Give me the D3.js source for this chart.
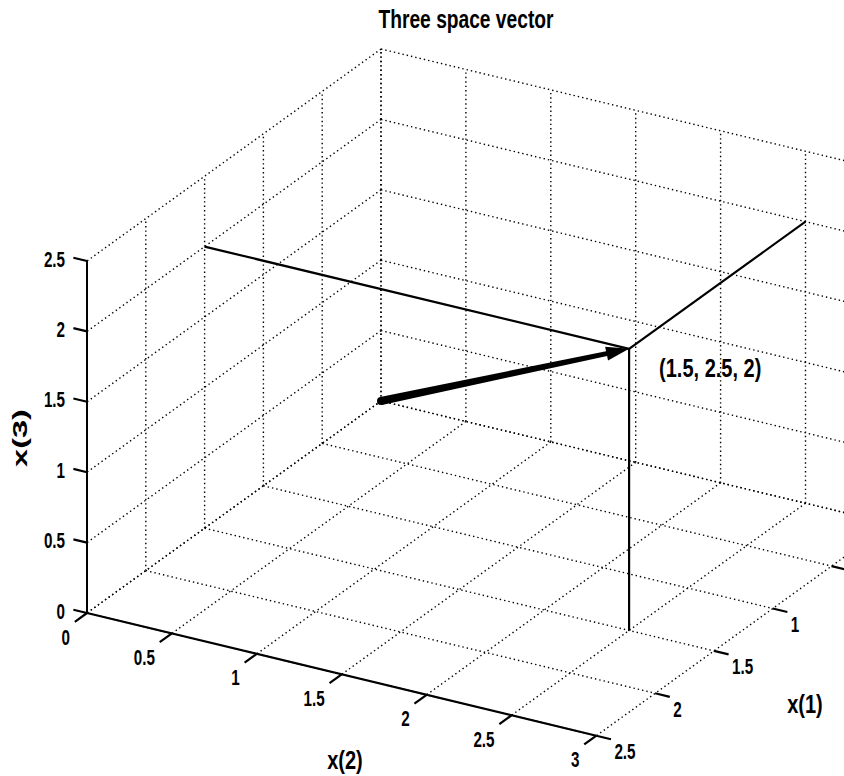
<!DOCTYPE html>
<html>
<head>
<meta charset="utf-8">
<script src="https://cdn.jsdelivr.net/npm/d3@7"></script>
<style>
  html, body { margin: 0; padding: 0; background: #fff; }
  svg text { font-family: "Liberation Sans", Arial, Helvetica, sans-serif; font-weight: bold; fill: #000; }
</style>
</head>
<body>
<svg id="chart" width="844" height="776"></svg>
<script>
// Axis limits and tick values
const X1_DOMAIN = [0, 2.5];
const X2_DOMAIN = [0, 3];
const X3_DOMAIN = [0, 2.5];
const X1_TICKS = [0, 0.5, 1, 1.5, 2, 2.5];
const X2_TICKS = [0, 0.5, 1, 1.5, 2, 2.5, 3];
const X3_TICKS = [0, 0.5, 1, 1.5, 2, 2.5];

// The vector and its label
const VECTOR = [1.5, 2.5, 2];
const VECTOR_LABEL = "(1.5, 2.5, 2)";
const TITLE = "Three space vector";
const AXIS_NAMES = ["x(1)", "x(2)", "x(3)"];

const WIDTH = 844;

// Each data axis is normalised to [0, 1] by a linear scale
const s1 = d3.scaleLinear().domain(X1_DOMAIN).range([0, 1]);
const s2 = d3.scaleLinear().domain(X2_DOMAIN).range([0, 1]);
const s3 = d3.scaleLinear().domain(X3_DOMAIN).range([0, 1]);

// Orthographic view: screen position of the box corner (0,0,0) and the
// screen vectors spanned by each full axis
const ORIGIN = [381, 401];
const E1 = [-294, 212];
const E2 = [509.4, 122.7];
const E3 = [0, -352];

function P(p) {
  const a = s1(p[0]), b = s2(p[1]), c = s3(p[2]);
  return [ORIGIN[0] + a * E1[0] + b * E2[0] + c * E3[0],
          ORIGIN[1] + a * E1[1] + b * E2[1] + c * E3[1]];
}
function unit(v) { const l = Math.hypot(v[0], v[1]); return [v[0] / l, v[1] / l]; }

const svg = d3.select("#chart");
const gGrid = svg.append("g");
const gAxes = svg.append("g");
const gData = svg.append("g");
const gText = svg.append("g");

const line = d3.line();
const [x1min, x1max] = X1_DOMAIN, [x2min, x2max] = X2_DOMAIN, [x3min, x3max] = X3_DOMAIN;

// Grid segments on the floor and the two back walls
const grid = [];
X1_TICKS.forEach(v => {
  grid.push([[v, x2min, 0], [v, x2max, 0]]);          // floor
  grid.push([[v, 0, x3min], [v, 0, x3max]]);          // wall x(2)=0
});
X2_TICKS.forEach(v => {
  grid.push([[x1min, v, 0], [x1max, v, 0]]);          // floor
  grid.push([[0, v, x3min], [0, v, x3max]]);          // wall x(1)=0
});
X3_TICKS.forEach(v => {
  grid.push([[x1min, 0, v], [x1max, 0, v]]);          // wall x(2)=0
  grid.push([[0, x2min, v], [0, x2max, v]]);          // wall x(1)=0
});
gGrid.selectAll("path").data(grid).join("path")
  .attr("d", seg => line(seg.map(P)))
  .attr("fill", "none")
  .attr("stroke", "#000")
  .attr("stroke-width", 1.4)
  .attr("stroke-dasharray", "1.4 3");

// Solid axis lines: x(3) and x(2)
gAxes.append("path")
  .attr("d", line([P([x1max, 0, x3min]), P([x1max, 0, x3max])]))
  .attr("stroke", "#000").attr("stroke-width", 2).attr("fill", "none");
gAxes.append("path")
  .attr("d", line([P([x1max, x2min, 0]), P([x1max, x2max, 0])]))
  .attr("stroke", "#000").attr("stroke-width", 2.2).attr("fill", "none");

// Tick marks point outward from the box
const dirX3 = unit(E2).map(d => -d * 14);
const dirX2 = unit(E1).map(d => d * 15);
const dirX1 = unit(E2).map(d => d * 15);
const ticks = [];
X3_TICKS.forEach(v => { const p = P([x1max, 0, v]); ticks.push([p, [p[0] + dirX3[0], p[1] + dirX3[1]]]); });
X2_TICKS.forEach(v => { const p = P([x1max, v, 0]); ticks.push([p, [p[0] + dirX2[0], p[1] + dirX2[1]]]); });
X1_TICKS.forEach(v => { const p = P([v, x2max, 0]); ticks.push([p, [p[0] + dirX1[0], p[1] + dirX1[1]]]); });
gAxes.selectAll("path.tick").data(ticks).join("path").attr("class", "tick")
  .attr("d", t => line(t))
  .attr("stroke", "#000").attr("stroke-width", 2.2).attr("fill", "none");

// Text helper: narrow letterforms with a vertical stretch factor
const NARROW = 0.8;
function label(x, y, str, size, anchor, sy, rot) {
  const sc = rot ? `scale(${sy},${NARROW})` : `scale(${NARROW},${sy})`;
  return gText.append("text")
    .attr("transform", `translate(${x},${y})` + (rot ? ` rotate(${rot})` : "") + ` ${sc}`)
    .attr("text-anchor", anchor)
    .attr("dominant-baseline", "central")
    .style("font-size", size + "px")
    .text(str);
}
const fmt = d3.format("~g");

X3_TICKS.forEach(v => { const p = P([x1max, 0, v]); label(p[0] - 22, p[1] - 2, fmt(v), 19, "end", 1.15); });
X2_TICKS.forEach(v => { const p = P([x1max, v, 0]); label(p[0] - 17, p[1] + 24, fmt(v), 19, "end", 1.15); });
// labels of x(1) beyond the right edge of the figure are left out
X1_TICKS.forEach(v => {
  const p = P([v, x2max, 0]);
  if (p[0] + 40 < WIDTH) label(p[0] + 18, p[1] + 16, fmt(v), 19, "start", 1.15);
});

// Axis names and title
label(345, 760, AXIS_NAMES[1], 25, "middle", 1.05);
label(805, 704, AXIS_NAMES[0], 25, "middle", 1.05);
label(20, 438, AXIS_NAMES[2], 25, "middle", 1.3, -90);
label(466, 20, TITLE, 24, "middle", 1.05);

// Projection lines from the tip of the vector
const tip = VECTOR;
const guides = [
  [[tip[0], 0, tip[2]], tip],
  [tip, [0, tip[1], tip[2]]],
  [tip, [tip[0], tip[1], 0]]
];
gData.selectAll("path.guide").data(guides).join("path").attr("class", "guide")
  .attr("d", seg => line(seg.map(P)))
  .attr("stroke", "#000").attr("stroke-width", 2.2).attr("fill", "none");

// The vector itself: tapered shaft with a filled head
const A = P([0, 0, 0]), B = P(tip);
const u = unit([B[0] - A[0], B[1] - A[1]]);
const n = [-u[1], u[0]];
const headLen = 23, headHalf = 7, tailHalf = 4, neckHalf = 2.5;
const H = [B[0] - u[0] * headLen, B[1] - u[1] * headLen];
const arrow = [
  [A[0] + n[0] * tailHalf, A[1] + n[1] * tailHalf],
  [H[0] + n[0] * neckHalf, H[1] + n[1] * neckHalf],
  [H[0] + n[0] * headHalf, H[1] + n[1] * headHalf],
  B,
  [H[0] - n[0] * headHalf, H[1] - n[1] * headHalf],
  [H[0] - n[0] * neckHalf, H[1] - n[1] * neckHalf],
  [A[0] - n[0] * tailHalf, A[1] - n[1] * tailHalf]
];
gData.append("path").attr("d", line(arrow) + "Z").attr("fill", "#000");
gData.append("circle").attr("cx", A[0]).attr("cy", A[1]).attr("r", tailHalf).attr("fill", "#000");

label(B[0] + 30, B[1] + 20, VECTOR_LABEL, 25, "start", 1.0);
</script>
</body>
</html>
